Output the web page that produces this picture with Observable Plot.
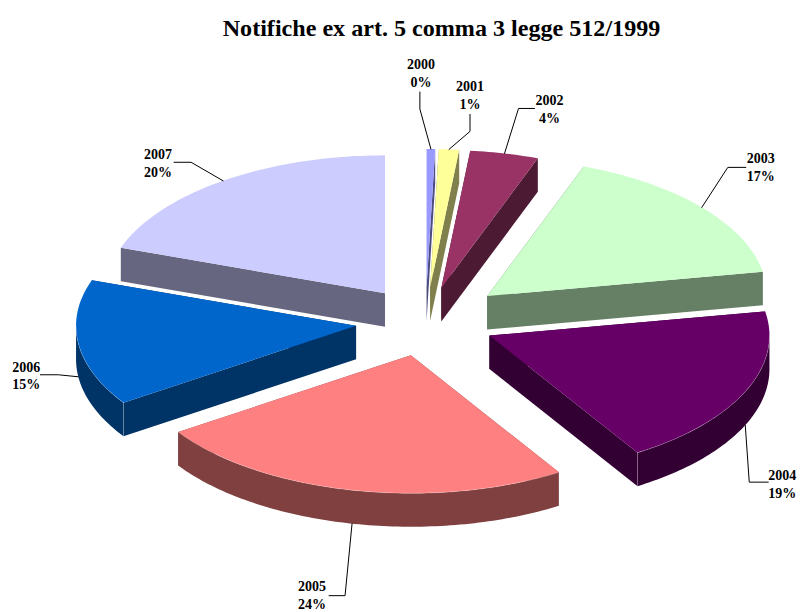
<!DOCTYPE html>
<html>
<head>
<meta charset="utf-8">
<script src="https://cdn.jsdelivr.net/npm/d3@7"></script>
<script src="https://cdn.jsdelivr.net/npm/@observablehq/plot@0.6"></script>
<style>
  html, body { margin: 0; padding: 0; background: #fff; }
  #chart { width: 800px; }
  #title { height: 56px; box-sizing: border-box; padding-top: 14px; text-align: center; padding-left: 83px;
    font: bold 24.1px/28px "Liberation Serif", "Times New Roman", serif; color: #000; white-space: nowrap; }
  svg { display: block; }
</style>
</head>
<body>
<div id="chart"><div id="title">Notifiche ex art. 5 comma 3 legge 512/1999</div></div>
<script>
// ---- data ----
const years = ["2000", "2001", "2002", "2003", "2004", "2005", "2006", "2007"];
const shares = [0.49, 1.16, 3.95, 16.6, 18.93, 24.47, 14.77, 19.63];
const colors = ["#9999FF", "#FFFF99", "#993366", "#CCFFCC", "#660066", "#FF8080", "#0066CC", "#CCCCFF"];
const explosions = [1, 1, 1, 1.15, 1, 1, 1, 1];

// ---- layout of the pseudo-3D pie ----
const W = 800, H = 612, TOP = 56;
const cx = 425, cy = 321, rx = 280, ry = 138, depth = 33.5, explode = 0.25;
// leader lines: elbow offset from the rim, tail offset from the elbow, label offset from the tail
const elbows = [[-11, -40], [21, -18], [14, -45], [26, -40], [4, 57], [-7, 72], [-20, -2], [-32, -18.5]];
const tails = [[0, -17], [0, -17], [16, 0], [18, 0], [19, 0], [-16, 0], [-18, 0], [-17, 0]];
const labelGaps = [[1, -20], [0, -20], [15, 0], [15, -1], [14, 1], [-17, -1], [-14, 0], [-16, 0]];

const rad = d => d * Math.PI / 180;
const half = c => { const r = d3.rgb(c); return d3.rgb(r.r / 2, r.g / 2, r.b / 2).formatHex(); };

const polys = [], seams = [], leaders = [], labels = [];
let cum = 0;
const total = d3.sum(shares);
years.forEach((year, i) => {
  const a0 = cum / total * 360, a1 = (cum + shares[i]) / total * 360;
  cum += shares[i];
  const mid = (a0 + a1) / 2, e = explode * explosions[i];
  const ax = cx + e * rx * Math.sin(rad(mid)), ay = cy - e * ry * Math.cos(rad(mid));
  const rim = t => [ax + rx * Math.sin(rad(t)), ay - ry * Math.cos(rad(t))];
  const sweep = (from, to) => {
    const n = Math.max(1, Math.ceil(Math.abs(to - from)));
    return d3.range(n + 1).map(k => from + (to - from) * k / n);
  };
  const wall = half(colors[i]);
  const add = (id, pts, fill) => pts.forEach(([x, y]) => polys.push({id: `${year}-${id}`, x, y, fill}));
  const down = ([x, y]) => [x, y + depth];

  // radial walls
  [a0, a1].forEach((t, k) => {
    const p = rim(t);
    add(`r${k}`, [[ax, ay], p, down(p), [ax, ay + depth]], wall);
  });
  // outer wall, only where the rim faces the viewer
  const f0 = Math.max(a0, 90), f1 = Math.min(a1, 270);
  if (f1 > f0) {
    const arc = sweep(f0, f1).map(rim);
    add("o", [...arc, ...arc.map(down).reverse()], wall);
    arc.forEach(([x, y]) => seams.push({id: `${year}-arc`, x, y}));
    if (a1 < 270 || a0 > 90) {
      const p = a0 > 90 ? rim(a0) : rim(a1);
      [p, down(p)].forEach(([x, y]) => seams.push({id: `${year}-v`, x, y}));
    }
  }
  // top face
  add("t", [[ax, ay], ...sweep(a0, a1).map(rim)], colors[i]);

  // leader and label
  const facing = Math.cos(rad(mid)) < 0;
  const s = rim(mid);
  const p0 = [s[0], s[1] + (facing ? depth : 0)];
  const p1 = [p0[0] + elbows[i][0], p0[1] + elbows[i][1]];
  const p2 = [p1[0] + tails[i][0], p1[1] + tails[i][1]];
  [p0, p1, p2].forEach(([x, y]) => leaders.push({id: year, x, y}));
  labels.push({
    x: p2[0] + labelGaps[i][0],
    y: p2[1] + labelGaps[i][1],
    text: `${year}\n${Math.round(shares[i] / total * 100)}%`
  });
});

const plot = Plot.plot({
  width: W,
  height: H - TOP,
  margin: 0,
  x: {domain: [0, W], range: [0, W], axis: null},
  y: {domain: [TOP, H], range: [0, H - TOP], axis: null},
  marks: [
    Plot.line(polys, {x: "x", y: "y", z: "id", fill: "fill", stroke: "none"}),
    Plot.line(seams, {x: "x", y: "y", z: "id", stroke: "#fff", strokeOpacity: 0.35, strokeWidth: 0.6}),
    Plot.line(leaders, {x: "x", y: "y", z: "id", stroke: "#000", strokeWidth: 1}),
    Plot.text(labels, {
      x: "x", y: "y", text: "text", lineHeight: 1.27, fill: "#000",
      fontSize: 14, fontWeight: "bold", fontFamily: "Liberation Serif", textAnchor: "middle"
    })
  ]
});
document.getElementById("chart").appendChild(plot);
</script>
</body>
</html>
